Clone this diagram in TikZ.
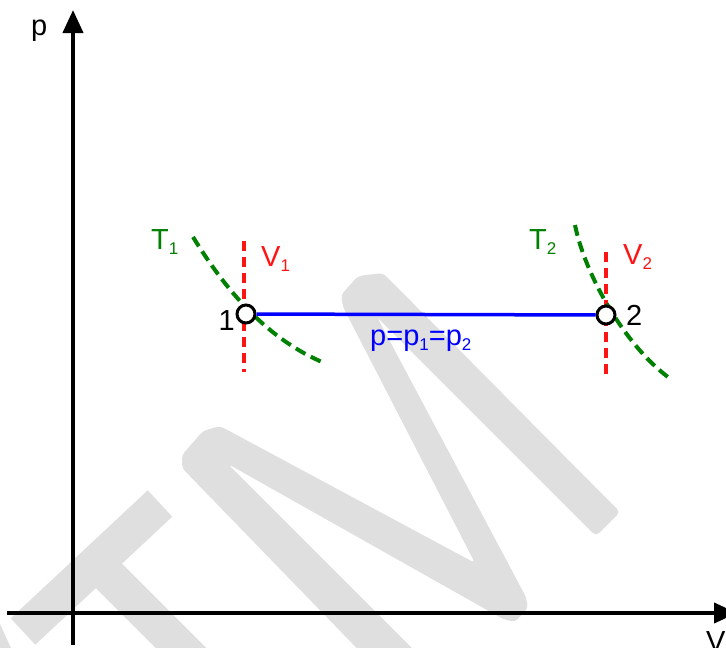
\documentclass[tikz,border=0pt]{standalone}
\usepackage{fontspec}
\setmainfont{Liberation Sans}
\usetikzlibrary{arrows.meta}
\definecolor{wm}{RGB}{223,223,223}
\definecolor{cblue}{RGB}{0,0,255}
\definecolor{cred}{RGB}{255,20,20}
\definecolor{cgreen}{RGB}{0,128,0}
\newcommand\sbs[1]{\raisebox{-5pt}{\fontsize{17}{17}\selectfont #1}}
\begin{document}
\begin{tikzpicture}[x=1pt,y=-1pt,
  axis/.style={line width=4pt,-{Triangle[length=23pt,width=20pt]}},
  lab/.style={inner sep=0pt,font=\fontsize{29}{34}\selectfont},
  pt/.style={circle,draw=black,fill=white,line width=3pt,minimum size=18pt,inner sep=0pt},
  isochor/.style={cred,line width=4pt,dash pattern=on 10pt off 6pt},
  isotherm/.style={cgreen,line width=4pt,dash pattern=on 11pt off 6pt},
  isobar/.style={cblue,line width=3.5pt},
  mark wm/.style={wm,line width=36pt}]
\useasboundingbox (0,0) rectangle (726,648);
\clip (0,0) rectangle (726,648);
% watermark
\draw[mark wm] (23,631.5) -- (160,503.5);
\draw[mark wm] (105,572) -- (230,697);
\fill[wm] (0,624) -- (11,648) -- (0,648) -- cycle;
\fill[wm, rounded corners=4pt] (376,668) -- (182,468) -- (182,455) -- (203,431) -- (220,426)
  -- (475,563) -- (343,307) -- (341,295) -- (358,276) -- (383,273) -- (620,512)
  -- (596,536) -- (377,317) -- (526,597) -- (528,608) -- (515,622) -- (503,619)
  -- (228,464) -- (432,668) -- cycle;
% axes
\coordinate (xs) at (7,613);
\coordinate (xe) at (737,613);
\coordinate (ys) at (73,645);
\coordinate (ye) at (73,10);
\draw[axis] (xs) -- (xe);
\draw[axis] (ys) -- (ye);
\node[lab,anchor=base west] (lp) at (31,35) {p};
\node[lab,anchor=base west] (lv) at (706,651) {V};
% isochors
\coordinate (v1a) at (244,241);
\coordinate (v1b) at (244,372);
\coordinate (v2a) at (606,252);
\coordinate (v2b) at (606,378);
\draw[isochor] (v1a) -- (v1b);
\draw[isochor] (v2a) -- (v2b);
% isotherms
\coordinate (t1a) at (193,237);
\coordinate (t1b) at (322,362);
\coordinate (t2a) at (575,225);
\coordinate (t2b) at (668,377);
\draw[isotherm] (t1a) .. controls (222,284) and (262,336) .. (t1b);
\draw[isotherm] (t2a) .. controls (585,275) and (625,345) .. (t2b);
% states
\node[pt] (n1) at (246,314) {};
\node[pt] (n2) at (606,315) {};
\draw[isobar] (n1) -- (n2);
% labels
\node[lab,anchor=base east] (l1) at (235,330) {1};
\node[lab,anchor=base west] (l2) at (626,325) {2};
\node[lab,anchor=base west,text=cgreen] (lt1) at (151,249) {T\sbs{1}};
\node[lab,anchor=base west,text=cred] (lv1) at (261,266) {V\sbs{1}};
\node[lab,anchor=base west,text=cgreen] (lt2) at (529,249) {T\sbs{2}};
\node[lab,anchor=base west,text=cred] (lv2) at (623,264) {V\sbs{2}};
\node[lab,anchor=base west,text=cblue] (lp12) at (370,345) {p=p\sbs{1}=p\sbs{2}};
\end{tikzpicture}
\end{document}
